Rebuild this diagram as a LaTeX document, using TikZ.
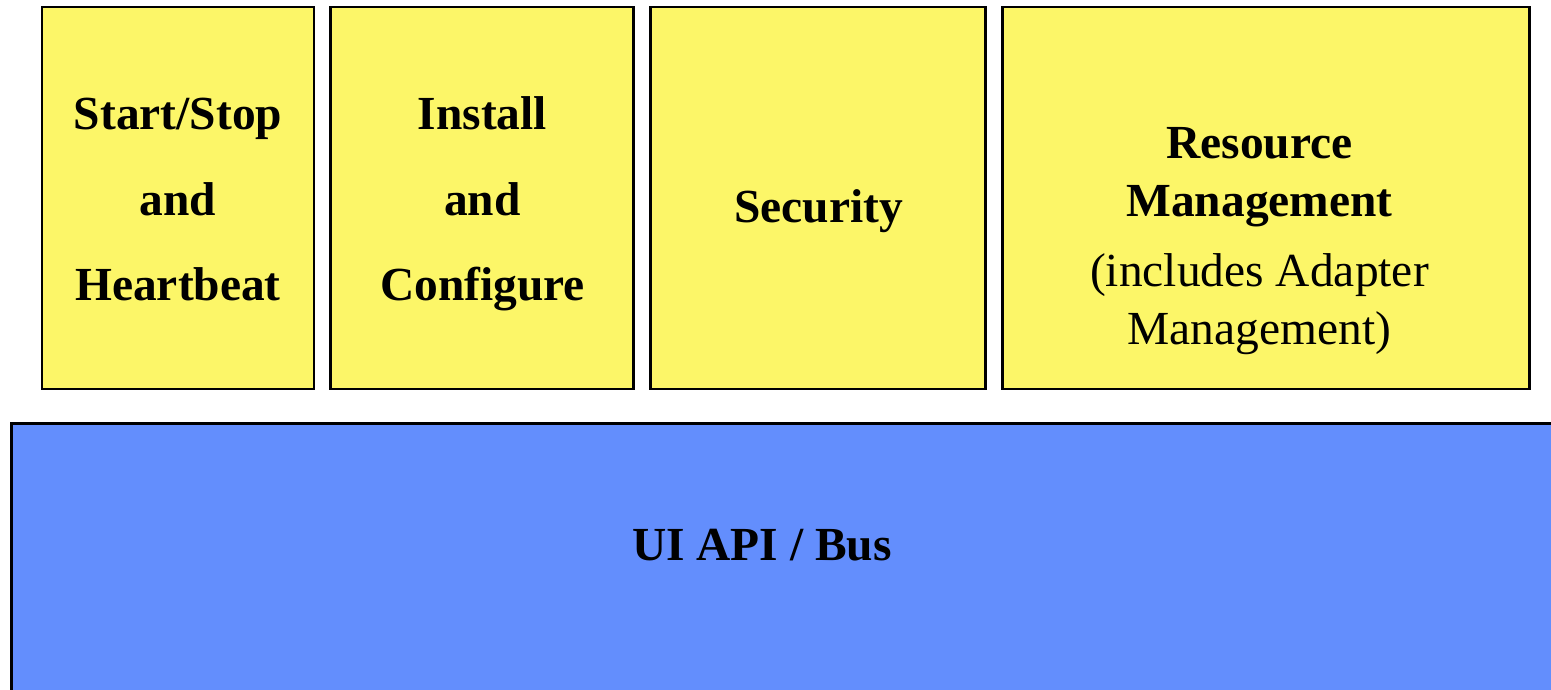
\documentclass[tikz,border=0pt]{standalone}
\usepackage{fontspec}
\setmainfont{Liberation Serif}
\usetikzlibrary{positioning}
\definecolor{boxyellow}{RGB}{252,246,104}
\definecolor{busblue}{RGB}{99,142,253}

\begin{document}
\begin{tikzpicture}[
    node distance=0.28cm,
    yellowbox/.style={draw, line width=1.7pt, fill=boxyellow, minimum height=7.64cm,
      inner sep=0pt, align=center, font=\fontsize{27}{48.8}\selectfont\bfseries},
    busbox/.style={draw, line width=1.7pt, fill=busblue, inner sep=0pt},
  ]
  \useasboundingbox (0,0) rectangle (31.02,-13.8);
  \clip (0,0) rectangle (31.02,-13.8);

  % top row of services
  \node[yellowbox, minimum width=5.44cm] (start) at (3.56,-3.96) {\strut Start/Stop\\and\\Heartbeat\strut};
  \node[yellowbox, minimum width=6.06cm, right=of start] (install) {\strut Install\\and\\Configure\strut};
  \node[yellowbox, minimum width=6.7cm, right=of install] (security) {};
  \node[font=\fontsize{27}{32.9}\selectfont\bfseries] (securitytext)
    at ([yshift=-0.26cm]security.center) {Security};
  \node[yellowbox, minimum width=10.54cm, right=of security] (resource) {};
  \node[align=center, font=\fontsize{27}{32.9}\selectfont] (resourcetext)
    at ([xshift=-0.14cm,yshift=-0.86cm]resource.center)
    {\bfseries Resource\\\bfseries Management\\[6.8pt]\mdseries (includes Adapter\\Management)};

  % bus underneath
  \node[busbox, minimum width=31.5cm, minimum height=6cm, anchor=north west] (bus) at (0.2,-8.44) {};
  \node[font=\fontsize{27}{32.9}\selectfont\bfseries] (bustext) at (15.24,-10.9) {UI API / Bus};
\end{tikzpicture}
\end{document}
